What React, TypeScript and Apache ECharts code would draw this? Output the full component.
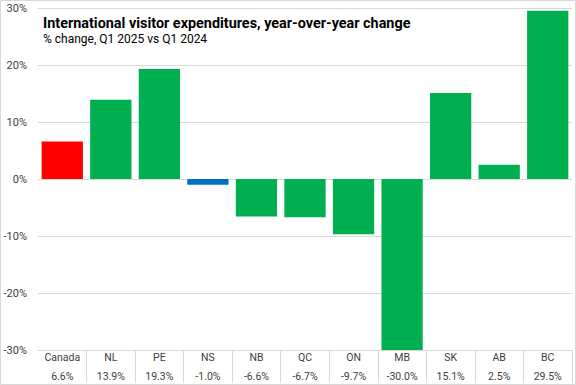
import React, { useEffect, useRef } from "react";
import * as echarts from "echarts";

const categories = ["Canada", "NL", "PE", "NS", "NB", "QC", "ON", "MB", "SK", "AB", "BC"];
const values = [6.6, 13.9, 19.3, -1.0, -6.6, -6.7, -9.7, -30.0, 15.1, 2.5, 29.5];
const barColors = ["#FF0000", "#00B050", "#00B050", "#0070C0", "#00B050", "#00B050", "#00B050", "#00B050", "#00B050", "#00B050", "#00B050"];
const yTicks = [-30, -20, -10, 0, 10, 20, 30];

export default function App() {
  const ref = useRef<HTMLDivElement>(null);
  useEffect(() => {
    if (!ref.current) return;
    const chart = echarts.init(ref.current, undefined, { renderer: "svg" });
    const font = "Roboto, 'Noto Sans', sans-serif";
    chart.setOption({
      animation: false,
      backgroundColor: "#ffffff",
      textStyle: { fontFamily: font },
      title: {
        text: "International visitor expenditures, year-over-year change",
        subtext: "% change, Q1 2025 vs Q1 2024",
        left: 38,
        top: 11,
        itemGap: 3,
        textStyle: { fontFamily: font, fontSize: 14.4, fontWeight: "bold", color: "#000000" },
        subtextStyle: { fontFamily: font, fontSize: 12, color: "#000000" },
      },
      grid: { left: 38, right: 4, top: 8, bottom: 35 },
      xAxis: {
        type: "category",
        data: categories,
        axisLine: { show: true, onZero: false, lineStyle: { color: "#D9D9D9", width: 1 } },
        axisTick: {
          show: true,
          interval: (i: number) => i > 0,
          length: 33,
          lineStyle: { color: "#D9D9D9", width: 1 },
        },
        axisLabel: {
          interval: 0,
          margin: 1,
          formatter: (v: string, i: number) => `{n|${v}}\n{v|${values[i].toFixed(1)}%}`,
          rich: {
            n: { fontSize: 10.5, color: "#404040", lineHeight: 12, fontFamily: font },
            v: { fontSize: 10.5, color: "#404040", lineHeight: 26, fontFamily: font },
          },
        },
      },
      yAxis: {
        type: "value",
        min: yTicks[0],
        max: yTicks[yTicks.length - 1],
        interval: 10,
        axisLine: { show: false },
        axisTick: { show: false },
        axisLabel: {
          formatter: (v: number) => `${v}%`,
          fontSize: 11,
          color: "#404040",
          margin: 11,
          fontFamily: font,
        },
        splitLine: { lineStyle: { color: "#D9D9D9", width: 1 } },
      },
      graphic: [
        {
          type: "rect",
          shape: { x: 0.5, y: 0.5, width: 575, height: 384 },
          style: { fill: "none", stroke: "#D9D9D9", lineWidth: 1 },
          silent: true,
          z: 100,
        },
      ],
      series: [
        {
          type: "bar",
          data: values.map((v, i) => ({ value: v, itemStyle: { color: barColors[i] } })),
          barCategoryGap: "15%",
        },
      ],
    });
    return () => chart.dispose();
  }, []);
  return <div ref={ref} style={{ width: 576, height: 385, position: "absolute", left: 0, top: 0 }} />;
}
